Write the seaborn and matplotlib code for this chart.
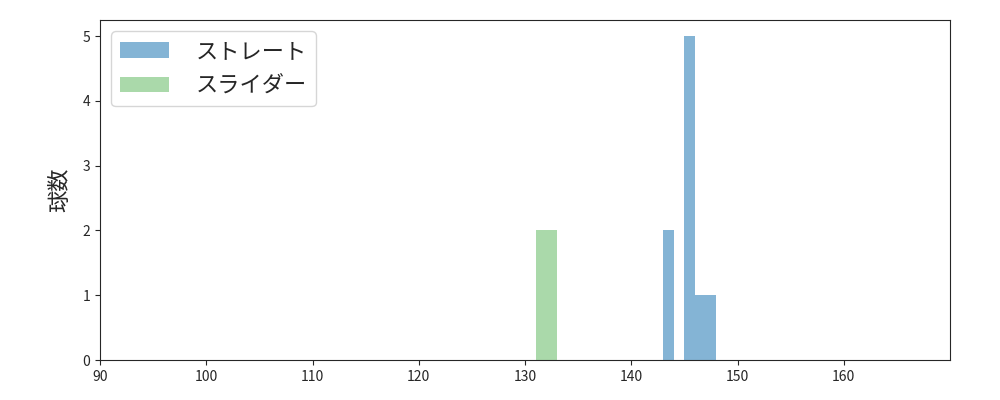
import matplotlib
matplotlib.use("Agg")
import matplotlib.pyplot as plt
import seaborn as sns
import pandas as pd

sns.set_style("ticks")
plt.rcParams['font.family'] = ['Noto Sans CJK JP', 'DejaVu Sans']

# bin starts (km/h) and counts
straight_bins = [143, 145, 146, 147]
straight_counts = [2, 5, 1, 1]
slider_bins = [131, 132]
slider_counts = [2, 2]

df_s = pd.DataFrame({"speed": [b + 0.5 for b in straight_bins], "n": straight_counts})
df_l = pd.DataFrame({"speed": [b + 0.5 for b in slider_bins], "n": slider_counts})

fig, ax = plt.subplots(figsize=(10, 4), dpi=100)
fig.subplots_adjust(left=0.1, right=0.95, top=0.95, bottom=0.1)

sns.histplot(data=df_s, x="speed", weights="n", binwidth=1, binrange=(143, 148),
             color="#1f77b4", alpha=0.55, edgecolor="none", linewidth=0,
             label="ストレート", ax=ax)
sns.histplot(data=df_l, x="speed", weights="n", binwidth=1, binrange=(131, 133),
             color="#2ca02c", alpha=0.4, edgecolor="none", linewidth=0,
             label="スライダー", ax=ax)

ax.set_xlim(90, 170)
ax.set_ylim(0, 5.25)
ax.set_xticks(range(90, 170, 10))
ax.set_xlabel("")
ax.set_ylabel("球数", fontsize=16, labelpad=8)
ax.tick_params(labelsize=10)
leg = ax.legend(loc="upper left", fontsize=16, borderaxespad=0.5, handlelength=2.2,
                handletextpad=1.2)

fig.savefig("out.png", dpi=100)
